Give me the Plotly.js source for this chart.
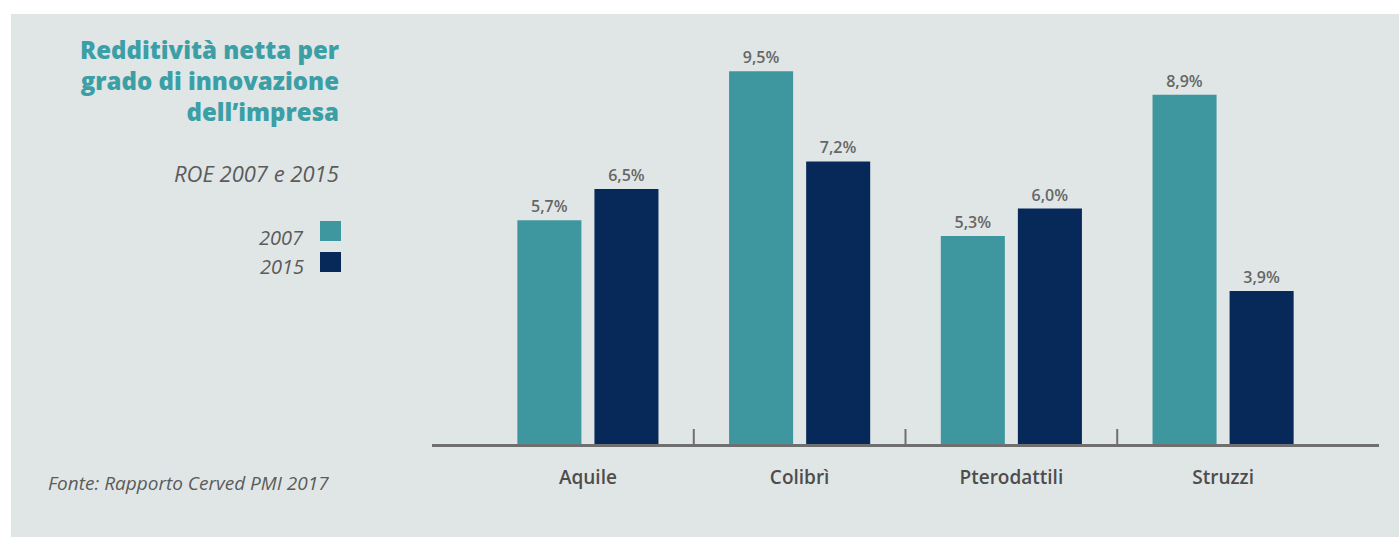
<!DOCTYPE html>
<html><head><meta charset="utf-8">
<script src="https://cdn.plot.ly/plotly-3.0.1.min.js"></script>
<style>
html,body{margin:0;padding:0;background:#ffffff;}
#wrap{position:relative;width:1399px;height:537px;overflow:hidden;}
#panel{position:absolute;left:11px;top:14px;right:0;bottom:0;background:#e0e6e6;}
#chart{position:absolute;left:0;top:0;width:1399px;height:537px;}
</style></head><body>
<div id="wrap"><div id="panel"></div><div id="chart"></div></div>
<script>
const categories = ['Aquile', 'Colibrì', 'Pterodattili', 'Struzzi'];
const roe2007 = [5.7, 9.5, 5.3, 8.9];
const roe2015 = [6.5, 7.2, 6.0, 3.9];
const seriesNames = ['2007', '2015'];
const titleLines = ['Redditività netta per', 'grado di innovazione', 'dell\u2019impresa'];
const subtitle = 'ROE 2007 e 2015';
const source = 'Fonte: Rapporto Cerved PMI 2017';

const W = 1399, H = 537;
const M = {l: 432, r: 20, t: 32, b: 93};
const PW = W - M.l - M.r, PH = H - M.t - M.b;
const fx = px => (px - M.l) / PW;
const fy = py => (H - M.b - py) / PH;

const teal = '#3e979e', navy = '#06295a';
const font = '"Open Sans", "Noto Sans", sans-serif';

const mkTrace = (name, vals, color) => ({
  type: 'bar', name: name, x: categories, y: vals,
  marker: {color: color},
  texttemplate: '%{y:.1f}%', textposition: 'outside', cliponaxis: false,
  textfont: {family: font, size: 16, color: '#666666', weight: 600},
  hoverinfo: 'skip'
});

const data = [mkTrace(seriesNames[0], roe2007, teal), mkTrace(seriesNames[1], roe2015, navy)];

const annotations = [];
annotations.push({
  xref: 'paper', yref: 'paper', x: fx(341), y: fy(81), xanchor: 'right', yanchor: 'middle', align: 'right',
  text: titleLines.join('<br>'), showarrow: false, font: {family: font, size: 24, color: '#3c9fa6', weight: 800}
});
annotations.push({xref: 'paper', yref: 'paper', x: fx(341), y: fy(173), xanchor: 'right', yanchor: 'middle',
  text: '<i>' + subtitle + '</i>', showarrow: false, font: {family: font, size: 22, color: '#5b5b5b'}});
const legY = [237, 266];
seriesNames.forEach((n, i) => annotations.push({xref: 'paper', yref: 'paper', x: fx(306), y: fy(legY[i]),
  xanchor: 'right', yanchor: 'middle', text: '<i>' + n + '</i>', showarrow: false,
  font: {family: font, size: 20, color: '#5b5b5b'}}));
annotations.push({xref: 'paper', yref: 'paper', x: fx(46), y: fy(483), xanchor: 'left', yanchor: 'middle',
  text: '<i>' + source + '</i>', showarrow: false, font: {family: font, size: 19, color: '#5b5b5b'}});

const shapes = [];
const legColors = [teal, navy];
const legTop = [221, 252];
legColors.forEach((c, i) => shapes.push({type: 'rect', xref: 'paper', yref: 'paper',
  x0: fx(320), x1: fx(341), y0: fy(legTop[i]), y1: fy(legTop[i] + 20), fillcolor: c, line: {width: 0}}));
for (let i = 1; i < categories.length; i++) {
  shapes.push({type: 'line', xref: 'x', yref: 'paper', x0: i - 0.5, x1: i - 0.5, y0: 0, y1: 15 / PH,
    line: {color: '#6f6f6f', width: 2}});
}

const layout = {
  width: W, height: H, margin: M,
  paper_bgcolor: 'rgba(0,0,0,0)', plot_bgcolor: 'rgba(0,0,0,0)',
  separators: ',.',
  showlegend: false,
  barmode: 'group', bargap: 0.272, bargroupgap: 0.169,
  xaxis: {type: 'category', range: [-0.5 - 50 / 211.5, categories.length - 0.5 + 50 / 211.5],
    showline: true, linecolor: '#6f6f6f', linewidth: 3, ticks: '', showgrid: false, zeroline: false,
    tickfont: {family: font, size: 19, color: '#4d4d4d', weight: 600}, ticklabelstandoff: 14, fixedrange: true},
  yaxis: {range: [0, 10.5], visible: false, fixedrange: true},
  annotations: annotations, shapes: shapes
};

Plotly.newPlot('chart', data, layout, {displayModeBar: false, staticPlot: true});
</script>
</body></html>
